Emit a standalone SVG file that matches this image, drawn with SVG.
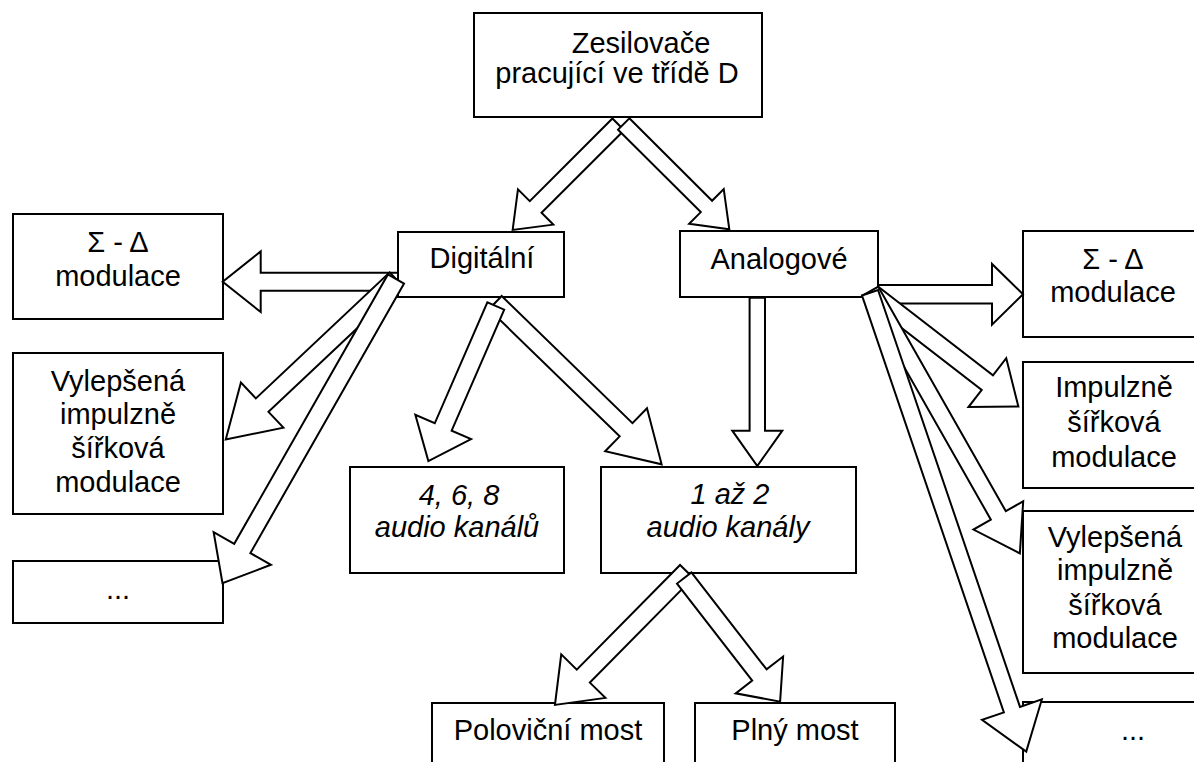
<svg xmlns="http://www.w3.org/2000/svg" width="1194" height="762" viewBox="0 0 1194 762">
<style>
.box{fill:#fff;stroke:#000;stroke-width:2}
.arr{fill:#fff;stroke:#000;stroke-width:2;stroke-linejoin:miter}
text{font-family:"Liberation Sans",Arial,sans-serif;font-size:29px;fill:#000;text-anchor:middle}
.it{font-style:italic}
</style>
<rect width="1194" height="762" fill="#fff"/>
<g id="n-top"><rect class="box" x="474" y="13" width="288" height="104"/>
<text x="641" y="53">Zesilovače</text><text x="617" y="83">pracující ve třídě D</text></g>
<g id="n-dig"><rect class="box" x="398" y="232" width="166" height="65"/><text x="482" y="268">Digitální</text></g>
<g id="n-ana"><rect class="box" x="680" y="231" width="198" height="66"/><text x="779" y="269">Analogové</text></g>
<g id="n-lsd"><rect class="box" x="13" y="214" width="210" height="105"/><text x="118" y="252">Σ - Δ</text><text x="118" y="286">modulace</text></g>
<g id="n-lvyl"><rect class="box" x="13" y="353" width="210" height="161"/><text x="118" y="391">Vylepšená</text><text x="118" y="424">impulzně</text><text x="118" y="458">šířková</text><text x="118" y="492">modulace</text></g>
<g id="n-ldots"><rect class="box" x="13" y="561" width="210" height="62"/><text x="118" y="599">...</text></g>
<g id="n-rsd"><rect class="box" x="1023" y="231" width="200" height="106"/><text x="1113" y="269">Σ - Δ</text><text x="1113" y="302">modulace</text></g>
<g id="n-rimp"><rect class="box" x="1023" y="362" width="200" height="126"/><text x="1114" y="397">Impulzně</text><text x="1114" y="432">šířková</text><text x="1114" y="467">modulace</text></g>
<g id="n-rvyl"><rect class="box" x="1023" y="511" width="200" height="162"/><text x="1115" y="547">Vylepšená</text><text x="1115" y="580">impulzně</text><text x="1115" y="615">šířková</text><text x="1115" y="648">modulace</text></g>
<g id="n-rdots"><rect class="box" x="1023" y="702" width="200" height="80"/><text x="1133" y="740">...</text></g>
<g id="n-k468"><rect class="box" x="350" y="467" width="214" height="106"/><text class="it" x="459" y="505">4, 6, 8</text><text class="it" x="457" y="537">audio kanálů</text></g>
<g id="n-k12"><rect class="box" x="601" y="467" width="255" height="106"/><text class="it" x="730" y="504">1 až 2</text><text class="it" x="728" y="537">audio kanály</text></g>
<g id="n-pol"><rect class="box" x="432" y="703" width="232" height="80"/><text x="548" y="740">Poloviční most</text></g>
<g id="n-pln"><rect class="box" x="695" y="703" width="200" height="80"/><text x="795" y="740">Plný most</text></g>
<g id="connectors">
<polygon class="arr" points="0,-8.3 116.9,-8.3 116.9,-25 149.4,0 116.9,25 116.9,8.3 0,8.3" transform="translate(618.3,124.3) rotate(135)"/>
<polygon class="arr" points="0,-8 116.8,-8 116.8,-24.5 149.1,0 116.8,24.5 116.8,8 0,8" transform="translate(623.7,124) rotate(44.9)"/>
<polygon class="arr" points="0,-9 137.3,-9 137.3,-30.3 175.3,0 137.3,30.3 137.3,9 0,9" transform="translate(398,281.7) rotate(180)"/>
<polygon class="arr" points="0,-9.2 183.9,-9.2 183.9,-31 233.9,0 183.9,31 183.9,9.2 0,9.2" transform="translate(396,279) rotate(136.7)"/>
<polygon class="arr" points="0,-9.3 310.2,-9.3 310.2,-33 350.2,0 310.2,33 310.2,9.3 0,9.3" transform="translate(396,279) rotate(119.7)"/>
<polygon class="arr" points="0,-9.2 182.4,-9.2 182.4,-30 232,0 182.4,30 182.4,9.2 0,9.2" transform="translate(495.3,302.6) rotate(44.2)"/>
<polygon class="arr" points="0,-9.2 131.9,-9.2 131.9,-30.4 169.1,0 131.9,30.4 131.9,9.2 0,9.2" transform="translate(495.8,306) rotate(113.5)"/>
<polygon class="arr" points="0,-9.2 147.1,-9.2 147.1,-31 187.5,0 147.1,31 147.1,9.2 0,9.2" transform="translate(686.6,571.4) rotate(134.6)"/>
<polygon class="arr" points="0,-9.1 122.7,-9.1 122.7,-30 156.5,0 122.7,30 122.7,9.1 0,9.1" transform="translate(684.2,578) rotate(52.2)"/>
<polygon class="arr" points="0,-7.7 133,-7.7 133,-25 168.3,0 133,25 133,7.7 0,7.7" transform="translate(757.3,297.7) rotate(90)"/>
<polygon class="arr" points="0,-9.2 114,-9.2 114,-30.3 145,0 114,30.3 114,9.2 0,9.2" transform="translate(878,294.3)"/>
<polygon class="arr" points="0,-9.2 144.9,-9.2 144.9,-30.9 184.1,0 144.9,30.9 144.9,9.2 0,9.2" transform="translate(872.7,294) rotate(37.7)"/>
<polygon class="arr" points="0,-8.6 258.2,-8.6 258.2,-28.6 301.8,0 258.2,28.6 258.2,8.6 0,8.6" transform="translate(870.8,290.9) rotate(60.4)"/>
<polygon class="arr" points="0,-8.5 440.4,-8.5 440.4,-31.6 484.8,0 440.4,31.6 440.4,8.5 0,8.5" transform="translate(870,292.7) rotate(71.2)"/>
</g>
</svg>
